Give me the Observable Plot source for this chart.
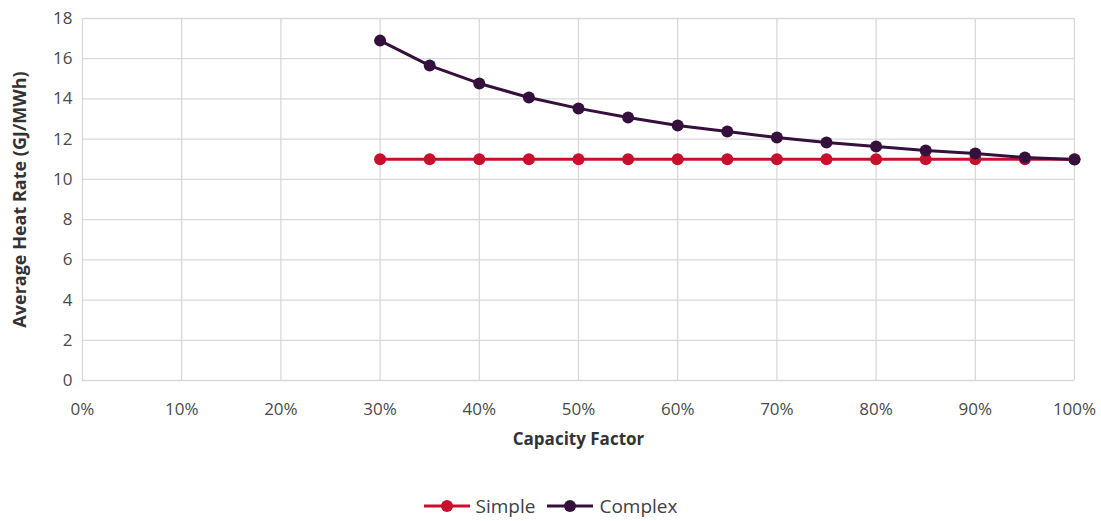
<!DOCTYPE html>
<html>
<head>
<meta charset="utf-8">
<script src="https://cdn.jsdelivr.net/npm/d3@7"></script>
<script src="https://cdn.jsdelivr.net/npm/@observablehq/plot@0.6"></script>
<style>
  body { margin: 0; background: #fff; font-family: "Open Sans", "Liberation Sans", sans-serif; }
  #chart { width: 1101px; }
  .legend { display: flex; justify-content: center; align-items: center; gap: 12px; height: 40px; font-size: 19px; color: #404040; margin-top: 0px; }
  .legend span.item { display: flex; align-items: center; gap: 6px; }
</style>
</head>
<body>
<div id="chart"></div>
<script>
const capacityFactor = [0.30, 0.35, 0.40, 0.45, 0.50, 0.55, 0.60, 0.65, 0.70, 0.75, 0.80, 0.85, 0.90, 0.95, 1.00];
const simpleValues  = [11.0, 11.0, 11.0, 11.0, 11.0, 11.0, 11.0, 11.0, 11.0, 11.0, 11.0, 11.0, 11.0, 11.0, 11.0];
const complexValues = [16.9, 15.66, 14.77, 14.07, 13.53, 13.08, 12.68, 12.38, 12.08, 11.83, 11.64, 11.44, 11.29, 11.09, 10.99];
const seriesNames = ["Simple", "Complex"];
const seriesColors = ["#C8102E", "#35103C"];
const xTicks = [0, 0.1, 0.2, 0.3, 0.4, 0.5, 0.6, 0.7, 0.8, 0.9, 1.0];
const yTicks = [0, 2, 4, 6, 8, 10, 12, 14, 16, 18];

const data = [];
capacityFactor.forEach((cf, i) => {
  data.push({cf, value: simpleValues[i], series: seriesNames[0]});
});
capacityFactor.forEach((cf, i) => {
  data.push({cf, value: complexValues[i], series: seriesNames[1]});
});

const plot = Plot.plot({
  width: 1101,
  height: 486,
  marginLeft: 82,
  marginRight: 27,
  marginTop: 18,
  marginBottom: 106,
  style: {fontFamily: "'Open Sans', 'Liberation Sans', sans-serif", background: "#fff"},
  x: {domain: [0, 1], ticks: xTicks, tickFormat: d => Math.round(d * 100) + "%", label: null},
  y: {domain: [0, 18], ticks: yTicks, label: null},
  color: {domain: seriesNames, range: seriesColors},
  marks: [
    Plot.gridX(xTicks, {stroke: "#d9d9d9", strokeOpacity: 1, strokeWidth: 1.3}),
    Plot.gridY(yTicks, {stroke: "#d9d9d9", strokeOpacity: 1, strokeWidth: 1.3}),
    Plot.axisX(xTicks, {tickSize: 0, tickPadding: 22, fontSize: 17, fill: "#4a4a4a", tickFormat: d => Math.round(d * 100) + "%", label: null}),
    Plot.axisY(yTicks, {tickSize: 0, tickPadding: 10, fontSize: 17, fill: "#4a4a4a", label: null}),
    Plot.text(["Capacity Factor"], {frameAnchor: "bottom", dy: 64, fontSize: 17, fontWeight: "bold", fill: "#333333", textAnchor: "middle"}),
    Plot.text(["Average Heat Rate (GJ/MWh)"], {frameAnchor: "left", dx: -62, rotate: -90, fontSize: 18, fontWeight: "bold", fill: "#333333", textAnchor: "middle"}),
    Plot.line(data, {x: "cf", y: "value", stroke: "series", strokeWidth: 3, z: "series"}),
    Plot.dot(data, {x: "cf", y: "value", fill: "series", r: 6})
  ]
});
document.getElementById("chart").appendChild(plot);

const legend = document.createElement("div");
legend.className = "legend";
seriesNames.forEach((name, i) => {
  const item = document.createElement("span");
  item.className = "item";
  item.innerHTML = `<svg width="46" height="14"><line x1="0" y1="7" x2="46" y2="7" stroke="${seriesColors[i]}" stroke-width="3"/><circle cx="23" cy="7" r="6" fill="${seriesColors[i]}"/></svg><span>${name}</span>`;
  legend.appendChild(item);
});
document.getElementById("chart").appendChild(legend);
</script>
</body>
</html>
